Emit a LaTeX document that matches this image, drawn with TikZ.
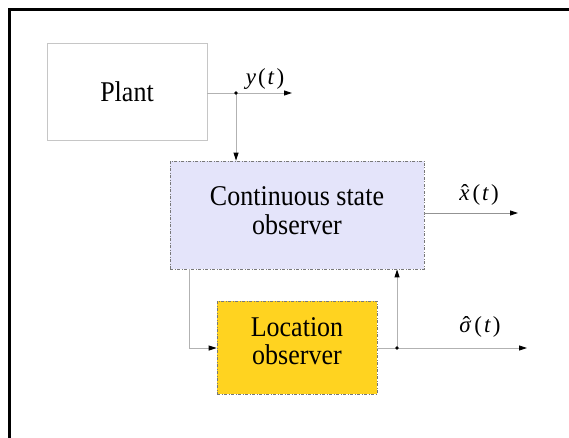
\documentclass[tikz,border=0pt]{standalone}
\usepackage{fontspec}
\usepackage{graphicx}
\setmainfont{Liberation Serif}
\usetikzlibrary{arrows.meta}
\definecolor{lav}{RGB}{228,228,250}
\definecolor{gold}{RGB}{255,211,32}
\definecolor{edgegray}{RGB}{120,120,120}
\newcommand\hatit[2][0pt]{\ooalign{\textit{#2}\cr\hidewidth\kern#1\char"02C6\hidewidth\cr}}
\newcommand\tallline[1]{\scalebox{1}[1.1]{#1}}
\begin{document}
\begin{tikzpicture}[x=1pt,y=-1pt,
  blocktext/.style={font=\fontsize{26}{27}\selectfont, align=center, inner sep=0pt},
  plantbox/.style={blocktext, draw=gray!45, line width=0.8pt, fill=white},
  obsbox/.style={blocktext, draw=edgegray, line width=0.8pt, dash pattern=on 3pt off 1.5pt on 1pt off 1.5pt},
  wire/.style={draw=gray!60, line width=0.9pt},
  conn/.style={wire, -{Triangle[length=8pt,width=5pt,color=black]}},
  lbl/.style={font=\fontsize{23}{25}\selectfont, inner sep=0pt},
  junction/.style={circle, fill=black, inner sep=0pt, minimum size=3.6pt}]
\useasboundingbox (0,0) rectangle (569,438);
\draw[line width=2.5pt] (9.5,438) -- (9.5,9.5) -- (569,9.5);

\node[plantbox, minimum width=160pt, minimum height=97pt] (plant) at (127,91.5) {\tallline{Plant}};
\node[obsbox, fill=lav, minimum width=254pt, minimum height=108pt] (cso) at (297,215)
  {\begin{tabular}{@{}c@{}}\tallline{Continuous state}\\[1pt]\tallline{observer}\end{tabular}};
\node[obsbox, fill=gold, minimum width=160pt, minimum height=93pt] (loc) at (297,347.5)
  {\raisebox{2.4pt}[\height][\depth]{\begin{tabular}{@{}c@{}}\tallline{Location}\\\tallline{observer}\end{tabular}}};

\coordinate (d1) at (236,93);
\coordinate (yout) at (292,93);
\coordinate (xout) at (518,213);
\coordinate (c1) at (189,348);
\coordinate (d2) at (397,348);
\coordinate (sout) at (527,348);

\draw[wire] (plant.east |- d1) -- (d1);
\draw[conn] (d1) -- (yout);
\draw[conn] (d1) -- (d1 |- cso.north);
\node[junction] (j1) at (d1) {};

\draw[conn, draw=gray!85] (cso.east |- xout) -- (xout);

\draw[conn] (c1 |- cso.south) -- (c1) -- (loc.west |- c1);

\draw[wire] (loc.east |- d2) -- (d2);
\draw[conn] (d2) -- (sout);
\draw[conn] (d2) -- (d2 |- cso.south);
\node[junction] (j2) at (d2) {};

\node[lbl] (ylab) at (265,79) {\textit{y}\kern2pt(\kern2pt\textit{t}\kern2pt)};
\node[lbl] (xlab) at (479,195) {\hatit[1pt]{x}\kern3pt(\kern2pt\textit{t}\kern2pt)};
\node[lbl] (slab) at (480,327) {\hatit[2pt]{σ}\kern3pt(\kern2pt\textit{t}\kern2pt)};
\end{tikzpicture}
\end{document}
